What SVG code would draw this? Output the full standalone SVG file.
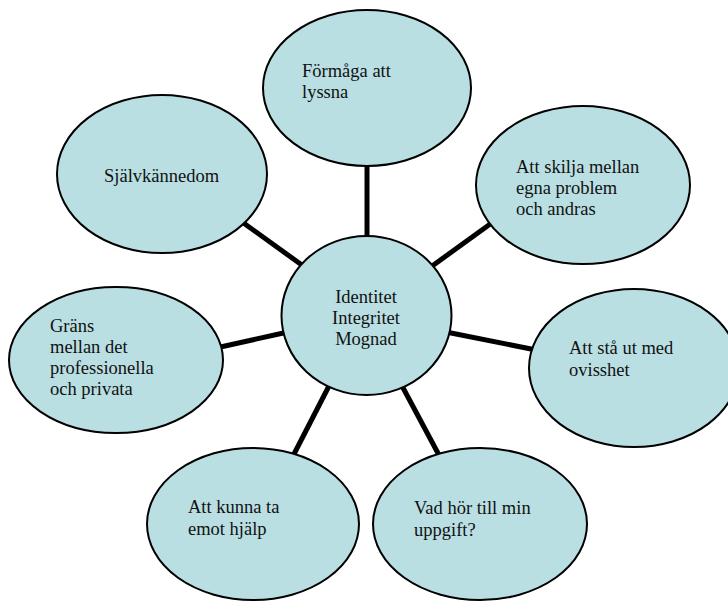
<svg xmlns="http://www.w3.org/2000/svg" width="728" height="601" viewBox="0 0 728 601">
<style>
.n{fill:#B9DFE3;stroke:#000;stroke-width:2}
.c{stroke:#000;stroke-width:5;fill:none}
text{font-family:"Liberation Serif","Times New Roman",serif;font-size:18.5px;fill:#111}
.m{text-anchor:middle}
</style>
<rect width="728" height="601" fill="#fff"/>
<g id="connectors">
<line class="c" x1="367" y1="160" x2="367" y2="240"/>
<line class="c" x1="238" y1="219" x2="306" y2="268"/>
<line class="c" x1="428" y1="269" x2="493" y2="222"/>
<line class="c" x1="216" y1="348" x2="288" y2="332"/>
<line class="c" x1="446" y1="332" x2="536" y2="350"/>
<line class="c" x1="330" y1="384" x2="293" y2="456"/>
<line class="c" x1="401" y1="384" x2="440" y2="457"/>
</g>
<g id="center">
<ellipse class="n" cx="366.5" cy="315.5" rx="85" ry="79.5"/>
<text class="m" x="366" y="303">Identitet</text>
<text class="m" x="366" y="324">Integritet</text>
<text class="m" x="366" y="345">Mognad</text>
</g>
<g id="lyssna">
<ellipse class="n" cx="367" cy="88" rx="104" ry="78"/>
<text x="302" y="77">Förmåga att</text>
<text x="302" y="98">lyssna</text>
</g>
<g id="sjalv">
<ellipse class="n" cx="162" cy="174" rx="105" ry="79"/>
<text x="104" y="182">Självkännedom</text>
</g>
<g id="skilja">
<ellipse class="n" cx="583" cy="185" rx="107" ry="79"/>
<text x="516" y="173">Att skilja mellan</text>
<text x="516" y="194">egna problem</text>
<text x="516" y="215">och andras</text>
</g>
<g id="grans">
<ellipse class="n" cx="116" cy="360" rx="107" ry="73"/>
<text x="50" y="332">Gräns</text>
<text x="50" y="353">mellan det</text>
<text x="50" y="374">professionella</text>
<text x="50" y="395">och privata</text>
</g>
<g id="ovisshet">
<ellipse class="n" cx="634" cy="368" rx="105" ry="79"/>
<text x="569" y="354">Att stå ut med</text>
<text x="569" y="376">ovisshet</text>
</g>
<g id="hjalp">
<ellipse class="n" cx="253" cy="524" rx="106" ry="76"/>
<text x="188" y="513">Att kunna ta</text>
<text x="188" y="535">emot hjälp</text>
</g>
<g id="uppgift">
<ellipse class="n" cx="480" cy="524" rx="107" ry="76"/>
<text x="414" y="514">Vad hör till min</text>
<text x="414" y="536">uppgift?</text>
</g>
</svg>
